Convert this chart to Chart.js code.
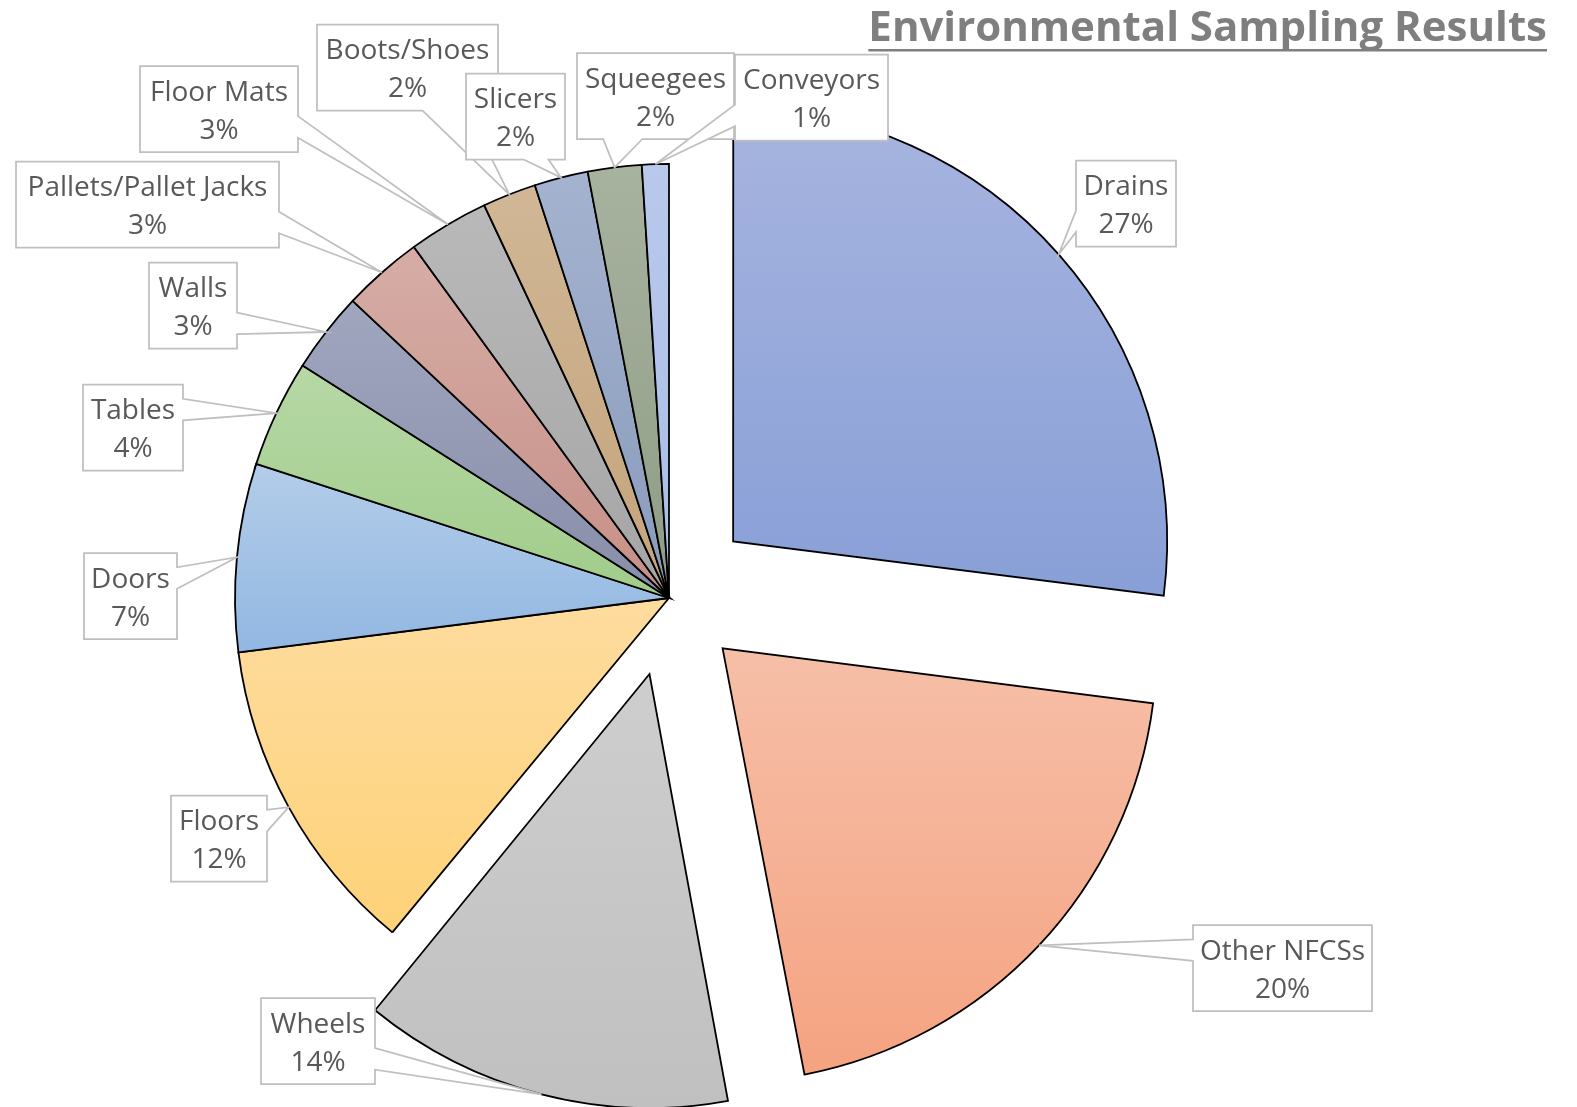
<!DOCTYPE html>
<html>
<head>
<meta charset="utf-8">
<title>Environmental Sampling Results</title>
<script src="https://cdn.jsdelivr.net/npm/chart.js@4.4.1/dist/chart.umd.min.js"></script>
<style>
  html, body { margin: 0; padding: 0; background: #fff; }
  canvas { display: block; }
</style>
</head>
<body>
<canvas id="samplingChart" width="1577" height="1107"></canvas>
<script>
const chartTitle = 'Environmental Sampling Results';

// sampling sites and their share of results (%)
const categories = ['Drains', 'Other NFCSs', 'Wheels', 'Floors', 'Doors', 'Tables', 'Walls',
  'Pallets/Pallet Jacks', 'Floor Mats', 'Boots/Shoes', 'Slicers', 'Squeegees', 'Conveyors'];
const shares = [27, 20, 14, 12, 7, 4, 3, 3, 3, 2, 2, 2, 1];

// slice fills, light at the top of the slice, darker at the bottom
const topColors = ['#A7B4DF', '#F6BFA8', '#CECECE', '#FEDC9F', '#B3CDE9', '#B7D8A6', '#A0A6BE',
  '#D6ADA5', '#B9B9B9', '#D1B796', '#A4B3CF', '#A8B39F', '#B8C9EB'];
const bottomColors = ['#889FD7', '#F5A381', '#C0C0C0', '#FED278', '#92B7E2', '#A0CC89', '#888EAA',
  '#C68F87', '#A5A5A5', '#C3A37B', '#899BBC', '#8E9C85', '#A9BDE6'];

// how far each slice is pulled out (px)
const explode = [85.5, 73.5, 78.5, 0, 0, 0, 0, 0, 0, 0, 0, 0, 0];

// callout boxes: centre relative to the pie centre, and width
const calloutDX = [457, 613.5, -351, -450, -538.5, -536, -476, -521.5, -450, -261.5, -153.5, -13.5, 142.5];
const calloutDY = [-394.5, 370, 443, 240.5, -2, -170.5, -292.5, -393.5, -489, -530.5, -481.5, -502, -500.5];
const calloutW = [100, 179, 114, 96, 93, 100, 88, 263, 158, 181, 99, 157, 153];
const calloutH = 86;

const pieRadius = 434;
const total = shares.reduce((a, b) => a + b, 0);

function sliceFill(context) {
    const i = context.dataIndex;
    const chart = context.chart;
    const area = chart.chartArea;
    if (!area) return bottomColors[i];
    const cx = (area.left + area.right) / 2;
    const cy = (area.top + area.bottom) / 2;
    let before = 0;
    for (let k = 0; k < i; k++) before += shares[k];
    const a0 = -Math.PI / 2 + before / total * Math.PI * 2;
    const a1 = a0 + shares[i] / total * Math.PI * 2;
    const ys = [cy, cy + pieRadius * Math.sin(a0), cy + pieRadius * Math.sin(a1)];
    [-Math.PI / 2, Math.PI / 2, Math.PI * 1.5].forEach(a => {
        if (a > a0 && a < a1) ys.push(cy + pieRadius * Math.sin(a));
    });
    const g = chart.ctx.createLinearGradient(0, Math.min(...ys), 0, Math.max(...ys));
    g.addColorStop(0, topColors[i]);
    g.addColorStop(1, bottomColors[i]);
    return g;
}

function drawCallout(ctx, x, y, w, h, tx, ty) {
    const dx = tx - (x + w / 2);
    const dy = ty - (y + h / 2);
    const vertical = Math.abs(dy) > Math.abs(dx * h / w);
    const hs = dx < 0 ? [2, 5] : [7, 10];
    const vs = dy < 0 ? [2, 5] : [7, 10];
    ctx.beginPath();
    ctx.moveTo(x, y);
    if (vertical && dy < 0) {
        ctx.lineTo(x + w * hs[0] / 12, y);
        ctx.lineTo(tx, ty);
        ctx.lineTo(x + w * hs[1] / 12, y);
    }
    ctx.lineTo(x + w, y);
    if (!vertical && dx > 0) {
        ctx.lineTo(x + w, y + h * vs[0] / 12);
        ctx.lineTo(tx, ty);
        ctx.lineTo(x + w, y + h * vs[1] / 12);
    }
    ctx.lineTo(x + w, y + h);
    if (vertical && dy > 0) {
        ctx.lineTo(x + w * hs[1] / 12, y + h);
        ctx.lineTo(tx, ty);
        ctx.lineTo(x + w * hs[0] / 12, y + h);
    }
    ctx.lineTo(x, y + h);
    if (!vertical && dx < 0) {
        ctx.lineTo(x, y + h * vs[1] / 12);
        ctx.lineTo(tx, ty);
        ctx.lineTo(x, y + h * vs[0] / 12);
    }
    ctx.closePath();
    ctx.fillStyle = '#FFFFFF';
    ctx.fill();
    ctx.strokeStyle = '#BFBFBF';
    ctx.lineWidth = 1.75;
    ctx.lineJoin = 'miter';
    ctx.stroke();
}

const calloutPlugin = {
    id: 'callouts',
    afterDatasetsUpdate(chart) {
        // chart.js grows the radius of pulled-out slices a bit, undo that
        chart.getDatasetMeta(0).data.forEach(arc => {
            const off = (arc.options.offset || 0) / 4;
            const fix = 1 - Math.sin(Math.min(Math.PI, arc.circumference));
            arc.outerRadius = pieRadius - off * fix;
        });
    },
    afterDatasetsDraw(chart) {
        const ctx = chart.ctx;
        const arcs = chart.getDatasetMeta(0).data;
        ctx.save();
        arcs.forEach((arc, i) => {
            const mid = (arc.startAngle + arc.endAngle) / 2;
            const r = (arc.options.offset || 0) / 4 + pieRadius;
            const tx = arc.x + Math.cos(mid) * r;
            const ty = arc.y + Math.sin(mid) * r;
            const cx = arc.x + calloutDX[i];
            const cy = arc.y + calloutDY[i];
            const w = calloutW[i];
            drawCallout(ctx, cx - w / 2, cy - calloutH / 2, w, calloutH, tx, ty);
            ctx.font = '28px "Open Sans"';
            ctx.fillStyle = '#595959';
            ctx.textAlign = 'center';
            ctx.textBaseline = 'alphabetic';
            ctx.fillText(categories[i], cx, cy - 8.5);
            ctx.fillText(Math.round(shares[i] / total * 100) + '%', cx, cy + 29.5);
        });

        // title, right aligned and underlined
        const right = chart.width - 30;
        ctx.font = 'bold 42px "Open Sans"';
        ctx.fillStyle = '#7F7F7F';
        ctx.textAlign = 'right';
        ctx.fillText(chartTitle, right, 41);
        const tw = ctx.measureText(chartTitle).width;
        ctx.fillRect(right - tw, 49, tw, 2.5);
        ctx.restore();
    }
};

const ctx = document.getElementById('samplingChart').getContext('2d');
new Chart(ctx, {
    type: 'pie',
    data: {
        labels: categories,
        datasets: [{
            data: shares,
            backgroundColor: sliceFill,
            borderColor: '#000000',
            borderWidth: 1.8,
            borderJoinStyle: 'miter',
            offset: explode.map(d => d * 4),
            radius: pieRadius
        }]
    },
    options: {
        responsive: false,
        animation: false,
        events: [],
        layout: { padding: { left: 0, right: 239, top: 89, bottom: 0 } },
        plugins: {
            legend: { display: false },
            tooltip: { enabled: false },
            title: { display: false }
        }
    },
    plugins: [calloutPlugin]
});
</script>
</body>
</html>
